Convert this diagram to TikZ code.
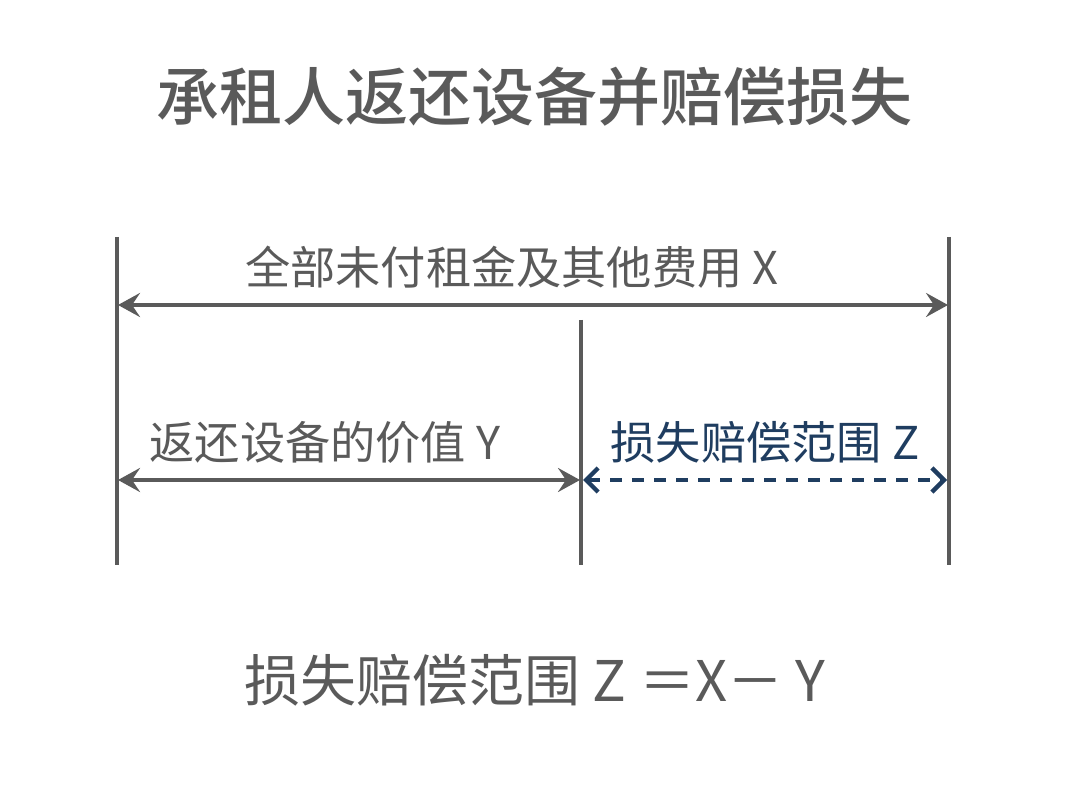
\documentclass[tikz,border=0pt]{standalone}
\usepackage{fontspec}
\newfontfamily\cjk{Noto Sans CJK SC}
\newfontfamily\cjkmed{Noto Sans CJK SC Medium}
\usetikzlibrary{arrows.meta}
\definecolor{linegray}{HTML}{5A5A5A}
\definecolor{navy}{HTML}{1F3D60}
\tikzset{
  bar/.style={linegray, line width=2pt},
  span/.style={linegray, line width=1.7pt, {Stealth[length=11pt,width=12pt,inset=4pt]}-{Stealth[length=11pt,width=12pt,inset=4pt]}},
  gap/.style={navy, line width=2pt, dash pattern=on 6pt off 5pt, {Straight Barb[length=6pt,width=12pt,line width=2.2pt]}-{Straight Barb[length=6pt,width=12pt,line width=2.2pt]}},
  lbl/.style={linegray, font=\cjk\fontsize{22.6}{23}\selectfont, inner sep=0pt},
}
\begin{document}
\begin{tikzpicture}[x=0.5pt, y=-0.5pt]

% Frame of the page
\fill[white] (0,0) rectangle (1080,785);
\useasboundingbox (0,0) rectangle (1080,785);

% Title
\node[linegray, font=\cjkmed\fontsize{31.5}{32}\selectfont, inner sep=0pt] (title) at (534,97) {承租人返还设备并赔偿损失};

% End points of the vertical bars
\coordinate (lt) at (117,237); \coordinate (lb) at (117,565); % left bar
\coordinate (mt) at (581,320); \coordinate (mb) at (581,565); % middle bar
\coordinate (rt) at (949,237); \coordinate (rb) at (949,565); % right bar

% Vertical bars
\draw[bar] (lt) -- (lb);
\draw[bar] (mt) -- (mb);
\draw[bar] (rt) -- (rb);

% Ends of the arrows
\coordinate (xl) at (118,305); \coordinate (xr) at (948,305); % total X
\coordinate (yl) at (118,480); \coordinate (ym) at (580,480); % value Y
\coordinate (zl) at (583,480); \coordinate (zr) at (947,480); % loss Z

% Arrows
\draw[span] (xl) -- (xr); % top arrow
\draw[span] (yl) -- (ym); % lower left arrow
\draw[gap] (zl) -- (zr); % dashed blue arrow

% Labels
\node[lbl] (labx) at (512,267) {全部未付租金及其他费用 X};
\node[lbl] (laby) at (325,442) {返还设备的价值 Y};
\node[lbl, navy] (labz) at (765,442) {损失赔偿范围 Z};

% Formula
\node[linegray, font=\cjk\fontsize{28}{29}\selectfont, inner sep=0pt] (formula) at (535,680) {损失赔偿范围 Z ＝X－ Y};

\end{tikzpicture}
\end{document}
